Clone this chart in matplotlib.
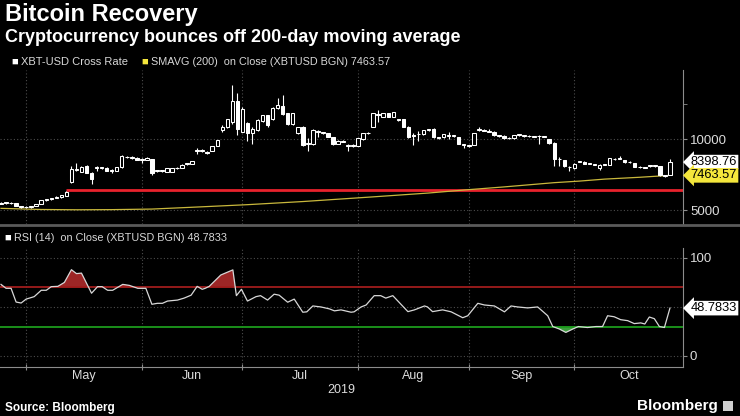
import numpy as np
import pandas as pd
import matplotlib.pyplot as plt
from matplotlib.lines import Line2D
from matplotlib.patches import Rectangle
import matplotlib.transforms as mtransforms

plt.rcParams['font.family'] = ['Liberation Sans', 'DejaVu Sans']

# daily XBT-USD candles (weekdays)
dates = pd.bdate_range('2019-04-23', '2019-10-25')

opens = [5480, 5560, 5500, 5520, 5320, 5260, 5220, 5300, 5440, 5720,
         5800, 5880, 5920, 6010, 7015, 7850, 7720, 8120, 7650, 8000,
         7990, 8000, 7800, 7800, 8030, 8730, 8700, 8700, 8560, 8560,
         8600, 7760, 7760, 7720, 7700, 7950, 7990, 8240, 8280, 9180,
         9200, 9130, 9180, 9530, 10650, 10850, 11240, 12720, 10540, 11170,
         10460, 10650, 11310, 11710, 11400, 12180, 12340, 11830, 11060, 10420,
         10890, 9650, 9670, 10520, 10460, 10420, 10140, 9670, 9820, 9530,
         9550, 9550, 10000, 10420, 10890, 11700, 11600, 11830, 11600, 11410,
         11410, 10890, 10310, 10350, 10370, 10650, 10700, 10150, 10140, 10250,
         10230, 10140, 9600, 9550, 9600, 10650, 10650, 10530, 10540, 10250,
         10250, 10070, 10070, 10300, 10230, 10230, 10180, 10230, 10180, 10000,
         9760, 8590, 8540, 8030, 7960, 8420, 8420, 8260, 8200, 7960,
         8200, 8190, 8590, 8640, 8540, 8380, 8330, 8030, 8000, 8120,
         8120, 8120, 7420, 7487]
highs = [5600, 5590, 5570, 5540, 5340, 5280, 5330, 5450, 5750, 5830,
         5900, 5990, 6100, 6350, 8100, 8300, 8150, 8200, 7700, 8150,
         8080, 8040, 7880, 8060, 8900, 8850, 8800, 8760, 8700, 8760,
         8650, 7850, 7860, 7980, 7990, 8050, 8230, 8330, 8500, 9400,
         9300, 9160, 9560, 9980, 11000, 11450, 13820, 13280, 12300, 11200,
         10900, 11400, 11750, 11750, 12250, 12900, 13120, 11880, 11880, 10900,
         10950, 10100, 10700, 10650, 10540, 10460, 10180, 9950, 9920, 9700,
         9640, 10120, 10460, 10500, 11870, 12100, 11880, 11870, 11940, 11450,
         11440, 10920, 10420, 10600, 10690, 10740, 10800, 10200, 10400, 10500,
         10300, 10180, 9680, 9630, 10460, 10900, 10720, 10700, 10580, 10330,
         10280, 10150, 10330, 10380, 10300, 10300, 10260, 10300, 10250, 10030,
         9800, 8750, 8580, 8150, 8300, 8500, 8450, 8340, 8280, 8240,
         8280, 8700, 8680, 8800, 8570, 8460, 8360, 8110, 8080, 8200,
         8190, 8150, 7500, 8650]
lows = [5450, 5470, 5460, 5300, 5200, 5150, 5190, 5280, 5420, 5690,
        5760, 5850, 5900, 5990, 6900, 7750, 7700, 7600, 6880, 7750,
        7940, 7780, 7600, 7780, 8000, 8700, 8650, 8530, 8300, 8540,
        7500, 7700, 7700, 7700, 7680, 7900, 7970, 8200, 8260, 9000,
        9140, 9000, 9160, 9500, 10500, 10800, 11100, 10300, 10500, 9900,
        9660, 10600, 11250, 10900, 11350, 12150, 11700, 11000, 11000, 10350,
        9550, 9200, 9600, 10150, 10400, 10150, 9630, 9650, 9780, 9200,
        9480, 9520, 9980, 10380, 10850, 11250, 11550, 11560, 11560, 11320,
        10850, 10100, 9600, 9900, 10340, 10600, 10100, 10000, 10120, 10000,
        10180, 9640, 9400, 9450, 9580, 10600, 10580, 10490, 10270, 10200,
        10040, 10030, 10050, 10260, 10190, 10190, 10140, 9700, 10140, 9690,
        8100, 8150, 8080, 7750, 7930, 8380, 8230, 8230, 8160, 7850,
        8160, 8170, 8550, 8600, 8350, 8340, 8020, 7990, 7960, 8080,
        8080, 7400, 7380, 7460]
closes = [5550, 5500, 5540, 5320, 5260, 5220, 5300, 5420, 5720, 5780,
          5880, 5950, 6080, 6310, 7888, 7920, 8030, 7650, 7180, 8060,
          8050, 7800, 7850, 8030, 8820, 8790, 8760, 8560, 8620, 8700,
          7650, 7820, 7820, 7950, 7950, 8010, 8200, 8300, 8480, 9240,
          9260, 9070, 9530, 9950, 10880, 11400, 12720, 10700, 12150, 10460,
          10700, 11360, 11710, 11000, 12180, 12410, 11760, 11060, 11830, 10840,
          9600, 9710, 10650, 10580, 10510, 10180, 9670, 9900, 9880, 9580,
          9600, 10070, 10420, 10470, 11830, 11760, 11830, 11600, 11900, 11360,
          10890, 10140, 10250, 10400, 10650, 10700, 10140, 10100, 10370, 10300,
          10280, 9670, 9650, 9600, 10420, 10700, 10610, 10580, 10300, 10300,
          10070, 10120, 10300, 10350, 10280, 10270, 10230, 10270, 10220, 9720,
          8590, 8640, 8120, 8080, 8260, 8470, 8260, 8310, 8250, 8200,
          8250, 8660, 8640, 8690, 8380, 8430, 8050, 8080, 8050, 8170,
          8160, 7490, 7460, 8398.76]

# 200-day moving average, sampled along the curve
sma_idx = [0, 8, 15, 22, 30, 40, 49, 60, 74, 85, 92, 100, 110, 115, 120, 127, 133]
sma_val = [5140, 5060, 5040, 5050, 5090, 5250, 5400, 5620, 5950, 6220,
           6430, 6650, 6950, 7060, 7200, 7330, 7463.57]

# horizontal level drawn on the chart
level_price = 6430
level_start = 13

# RSI (14)
rsi_idx = [0, 1, 2, 3, 4, 5, 6.6, 8, 9, 10, 11.3, 12.6, 14, 15, 16, 18, 19.2, 20.1,
           21.2, 22.2, 24.2, 25.5, 27.2, 28.8, 30, 31.1, 32.1, 33.1, 35.1, 36.4,
           37.8, 39, 40, 40.6, 41.4, 43.7, 46.1, 46.8, 47.8, 49, 50.7, 51.6, 53,
           54.3, 55.3, 57, 58.3, 60, 60.8, 62, 63.6, 65.3, 66.3, 67.6, 69.6, 70.2,
           71.6, 72.6, 73.6, 74.2, 75.5, 76.5, 77.9, 80.9, 82.2, 84.2, 84.8, 85.8,
           87.8, 89.5, 91.8, 92.8, 94.8, 96.1, 98.1, 100.1, 101.4, 102.7, 104.7,
           106.7, 108.7, 109.7, 111, 112.3, 113.7, 114.8, 116.6, 118.3, 119.6,
           120.6, 121.9, 123.2, 124.6, 125.9, 127.2, 128, 128.9, 129.9, 130.9,
           131.9, 133]
rsi_val = [73, 69, 69, 55, 54, 58, 60.5, 67, 67, 70.7, 71, 75, 88, 84, 84.5, 64, 70.7, 70.7,
           67, 67, 73, 72, 69, 69, 52.7, 53.7, 53.7, 56, 57, 59,
           62, 71, 68, 69, 71, 82.6, 87.8, 61.5, 68, 56, 60.5, 61.5, 57,
           63, 62, 54.8, 58, 44.6, 45, 51, 50, 48, 46, 47, 44.6, 45,
           50, 52, 58, 61.5, 61.5, 59, 61.5, 45.2, 47, 51, 50, 45.2,
           47, 45, 39, 41, 53.7, 52, 51, 45, 51, 50, 49,
           50, 41, 30, 27.5, 24, 27.5, 30, 29, 30, 30,
           41, 40, 37, 36, 33, 33.7, 32.6, 39.7, 38, 30,
           29, 48.7833]

month_names = ['May', 'Jun', 'Jul', 'Aug', 'Sep', 'Oct']

x = np.arange(len(dates))
o = np.array(opens, float)
h = np.array(highs, float)
l = np.array(lows, float)
c = np.array(closes, float)
rx = np.array(rsi_idx, float)
ry = np.array(rsi_val, float)

# month boundaries in candle index
per = dates.to_period('M')
firsts = [i for i in range(1, len(per)) if per[i] != per[i - 1]]
bounds = [f - 1 for f in firsts]
xmax = 135.6

fig = plt.figure(figsize=(7.4, 4.16), dpi=100, facecolor='black')
ax1 = fig.add_axes([0, 0.4615, 0.923, 0.370])
ax2 = fig.add_axes([0, 0.118, 0.923, 0.286])

axis_col = '#8c8c8c'
grid_col = '#4d4d4d'
for ax in (ax1, ax2):
    ax.set_facecolor('black')
    for s in ['top', 'left', 'bottom']:
        ax.spines[s].set_visible(False)
    ax.spines['right'].set_color(axis_col)
    ax.yaxis.tick_right()
    ax.tick_params(axis='y', which='both', colors=axis_col, labelcolor='#dcdcdc',
                   labelsize=9.5, length=3, pad=2)
    ax.set_xlim(-0.2, xmax)
    for b in bounds:
        ax.axvline(b, color=grid_col, lw=0.8, ls=(0, (1, 2)), zorder=0)


def value_tag(ax, val, text, fc):
    ax.annotate(text, xy=(1, val), xycoords=('axes fraction', 'data'),
                xytext=(5.5, 0), textcoords='offset points', va='center', ha='left',
                fontsize=9.3, color='black', annotation_clip=False,
                bbox=dict(boxstyle='larrow,pad=0.1', fc=fc, ec='none'))


# price panel
ax1.set_ylim(4037, 14879)
ax1.set_yticks([5000, 10000])
ax1.set_yticks([7500, 12500], minor=True)
ax1.tick_params(axis='x', bottom=False, labelbottom=False)
for yv in [5000, 10000]:
    ax1.axhline(yv, color=grid_col, lw=0.8, ls=(0, (1, 2)), zorder=0)

ax1.hlines(level_price, level_start, xmax, color='#e8222c', lw=2, zorder=2)
ax1.plot(sma_idx, sma_val, color='#c9b83c', lw=0.9, zorder=3)

ax1.vlines(x, l, h, color='white', lw=0.8, zorder=4)
up = c >= o
ax1.bar(x[up], (c - o)[up], bottom=o[up], width=0.7, color='black',
        edgecolor='white', linewidth=0.75, zorder=5)
ax1.bar(x[~up], (c - o)[~up], bottom=o[~up], width=0.7, color='white',
        edgecolor='white', linewidth=0.75, zorder=5)

value_tag(ax1, closes[-1], f'{closes[-1]:.2f}', 'white')
value_tag(ax1, sma_val[-1], f'{sma_val[-1]:.2f}', '#f4e63c')

# RSI panel
ax2.set_ylim(-11.2, 110.2)
ax2.set_yticks([0, 100])
ax2.set_yticks([50], minor=True)
for yv in [0, 50, 100]:
    ax2.axhline(yv, color=grid_col, lw=0.8, ls=(0, (1, 2)), zorder=0)
ax2.axhline(70, color='#a01c1c', lw=1.3, zorder=2)
ax2.axhline(30, color='#1c9a1c', lw=1.3, zorder=2)
ax2.fill_between(rx, ry, 70, where=ry >= 70, interpolate=True, color='#9c2626', lw=0, zorder=1)
ax2.fill_between(rx, ry, 30, where=ry <= 30, interpolate=True, color='#3c9c3c', lw=0, zorder=1)
ax2.plot(rx, ry, color='#d8d8d8', lw=0.9, zorder=3)
value_tag(ax2, rsi_val[-1], f'{rsi_val[-1]:.4f}', 'white')

ax2.spines['bottom'].set_visible(True)
ax2.spines['bottom'].set_color(axis_col)
ax2.set_xticks(bounds)
ax2.tick_params(axis='x', colors=axis_col, direction='inout', length=4, labelbottom=False)
trans = mtransforms.blended_transform_factory(ax2.transData, ax2.transAxes)
edges = bounds + [xmax]
for k, name in enumerate(month_names):
    ax2.text((edges[k] + edges[k + 1]) / 2, -0.075, name, transform=trans,
             ha='center', va='center', fontsize=9, color='#dcdcdc')
ax2.text(67.6, -0.195, '2019', transform=trans, ha='center', va='center',
         fontsize=9, color='#dcdcdc')

# separator between the panels
fig.add_artist(Line2D([0, 1], [0.459, 0.459], color='#5a5a5a', lw=2))

# titles and legends
fig.text(0.007, 1 - 14 / 416, 'Bitcoin Recovery', fontsize=17, weight='bold',
         color='white', va='center')
fig.text(0.007, 1 - 37 / 416, 'Cryptocurrency bounces off 200-day moving average',
         fontsize=13, weight='bold', color='white', va='center')
fig.text(0.016, 1 - 62 / 416, '■', fontsize=8, color='white', va='center')
fig.text(0.029, 1 - 62 / 416, 'XBT-USD Cross Rate', fontsize=8, color='#d8d8d8', va='center')
fig.text(0.191, 1 - 62 / 416, '■', fontsize=8, color='#f4e63c', va='center')
fig.text(0.204, 1 - 62 / 416, 'SMAVG (200)  on Close (XBTUSD BGN) 7463.57',
         fontsize=7.8, color='#d8d8d8', va='center')
fig.text(0.006, 1 - 238 / 416, '■', fontsize=8, color='white', va='center')
fig.text(0.019, 1 - 238 / 416, 'RSI (14)  on Close (XBTUSD BGN) 48.7833',
         fontsize=7.8, color='#d8d8d8', va='center')
fig.text(0.007, 1 - 408 / 416, 'Source: Bloomberg', fontsize=8.5, weight='bold',
         color='white', va='center')
fig.text(0.970, 1 - 406 / 416, 'Bloomberg', fontsize=11, weight='bold',
         color='white', va='center', ha='right')
fig.add_artist(Rectangle((0.977, 1 - 411 / 416), 0.013, 0.024, transform=fig.transFigure,
                         fc='#cfcfcf', ec='none'))

fig.savefig('out.png', dpi=100, facecolor='black')
